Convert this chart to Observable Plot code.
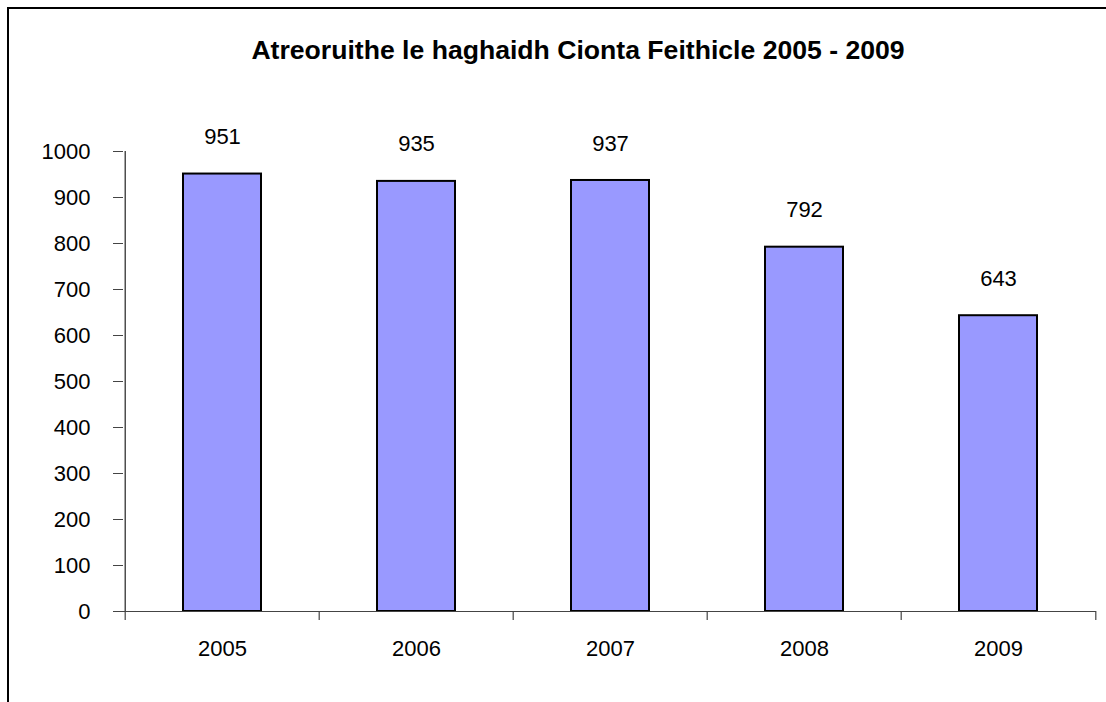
<!DOCTYPE html>
<html><head><meta charset="utf-8">
<script src="https://cdn.jsdelivr.net/npm/d3@7"></script>
<script src="https://cdn.jsdelivr.net/npm/@observablehq/plot@0.6"></script>
<style>
body{margin:0;background:#fff;}
#wrap{position:relative;width:1106px;height:702px;overflow:hidden;font-family:"Liberation Sans",Arial,sans-serif;background:#fff;}
#border{position:absolute;left:7px;top:7px;width:1200px;height:800px;border-left:2px solid #000;border-top:2px solid #000;}
#title{position:absolute;left:0;width:1156px;top:34px;text-align:center;font-weight:bold;font-size:26.6px;line-height:32px;color:#000;}
#chart{position:absolute;left:0;top:0;}
</style></head><body>
<div id="wrap"><div id="border"></div><div id="title">Atreoruithe le haghaidh Cionta Feithicle 2005 - 2009</div><div id="chart"></div></div>
<script>
const years = ["2005", "2006", "2007", "2008", "2009"];
const values = [951, 935, 937, 792, 643];
const yTicks = [0, 100, 200, 300, 400, 500, 600, 700, 800, 900, 1000];

const data = years.map((year, i) => ({year, value: values[i]}));
const W = 1106, H = 702, ML = 123, MR = 10;
const half = (W - ML - MR) / years.length / 2;

const chart = Plot.plot({
  width: W, height: H,
  marginLeft: ML, marginRight: MR, marginTop: 151, marginBottom: 91,
  style: {fontFamily: '"Liberation Sans", Arial, sans-serif', fontSize: "22px", color: "#000", background: "transparent"},
  x: {type: "band", domain: years, padding: 0},
  y: {domain: [0, 1000]},
  marks: [
    Plot.rectY(data, {x: "year", y: "value", fill: "#9999ff", stroke: "#000", strokeWidth: 2, insetLeft: 58, insetRight: 58}),
    Plot.ruleY([0], {stroke: "#444", strokeWidth: 1.2}),
    Plot.ruleX([years[0]], {y1: 0, y2: 1000, dx: -half, stroke: "#222", strokeWidth: 1.2}),
    Plot.ruleX(years, {y1: 0, y2: -19.5, dx: -half, stroke: "#444", strokeWidth: 1.2}),
    Plot.ruleX([years[years.length - 1]], {y1: 0, y2: -19.5, dx: half, stroke: "#444", strokeWidth: 1.2}),
    Plot.axisY({ticks: yTicks, tickFormat: d => String(d), tickSize: 10, tickPadding: 23, stroke: "#444", label: null, fontSize: 22}),
    Plot.axisX({tickSize: 0, tickPadding: 29, label: null, fontSize: 22}),
    Plot.text(data, {x: "year", y: "value", text: d => String(d.value), dy: -37, fontSize: 22, fill: "#000"})
  ]
});
document.getElementById("chart").appendChild(chart);
</script>
</body></html>
